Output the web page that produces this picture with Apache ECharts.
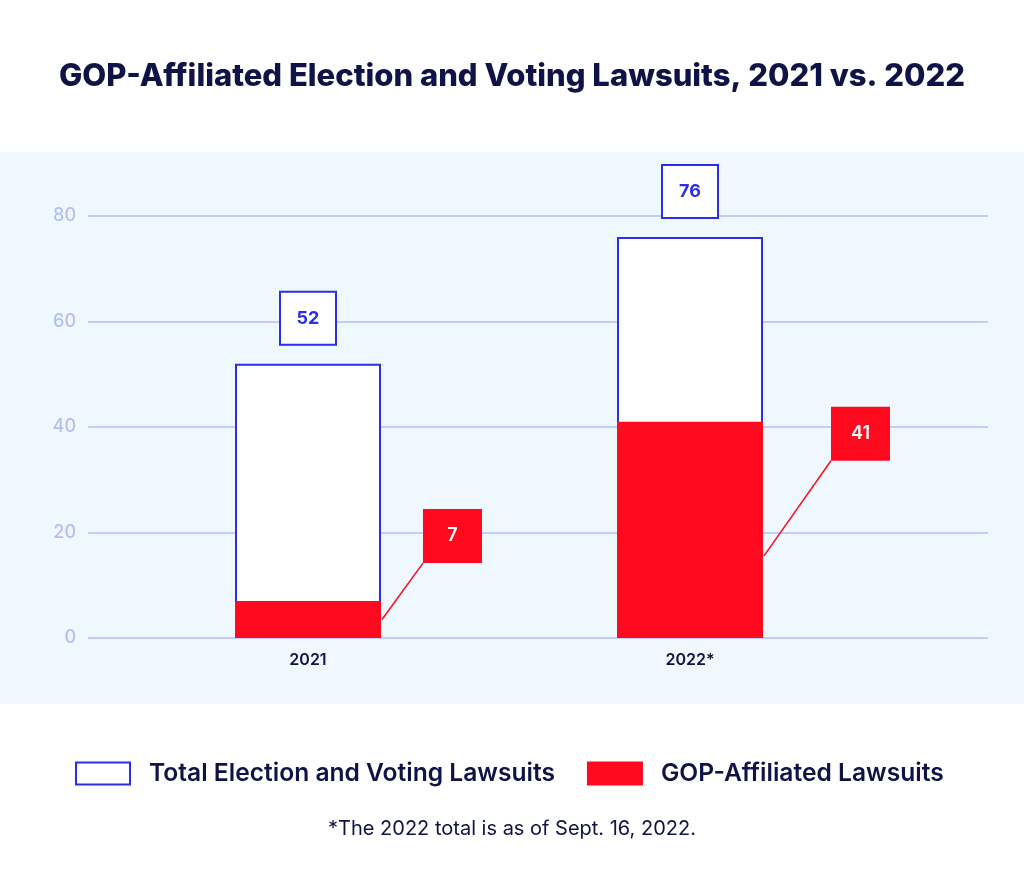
<!DOCTYPE html>
<html>
<head>
<meta charset="utf-8">
<script src="https://cdn.jsdelivr.net/npm/echarts@6/dist/echarts.min.js"></script>
<style>
html,body{margin:0;padding:0;background:#ffffff;}
#chart{width:1024px;height:876px;}
</style>
</head>
<body>
<div id="chart"></div>
<script>
const categories = ['2021', '2022*'];
const totalLawsuits = [52, 76];
const gopLawsuits = [7, 41];
const yTicks = [0, 20, 40, 60, 80];
const seriesNames = ['Total Election and Voting Lawsuits', 'GOP-Affiliated Lawsuits'];
const titleText = 'GOP-Affiliated Election and Voting Lawsuits, 2021 vs. 2022';
const footnoteText = '*The 2022 total is as of Sept. 16, 2022.';

const NAVY = '#0f1347';
const BLUE = '#2b2ef0';
const RED = '#ff0a1f';
const GRIDLINE = '#c2cdf8';
const TICKLABEL = '#b2c0f6';
const PANEL = '#eef8fe';
const FONT = 'Inter, "Noto Sans", sans-serif';
const BAR_W = 146;
const BOX_W = 59, BOX_H = 54;

// callout placement styling (pixel offsets from the bar's top-right corner)
const gopCallouts = [{dx: 41, dy: -92, anchor: 0.5}, {dx: 67, dy: -15, anchor: 0.38}];

const chart = echarts.init(document.getElementById('chart'), null, {renderer: 'canvas'});

const option = {
  animation: false,
  textStyle: {fontFamily: FONT},
  title: [
    {text: titleText, left: 'center', top: 56,
     textStyle: {fontFamily: FONT, fontSize: 31, fontWeight: 800, color: NAVY}},
    {text: footnoteText, left: 'center', top: 814,
     textStyle: {fontFamily: FONT, fontSize: 20, fontWeight: 400, color: NAVY}}
  ],
  graphic: [
    {type: 'rect', z: -10, silent: true,
     shape: {x: 0, y: 152, width: 1024, height: 552},
     style: {fill: PANEL}}
  ],
  legend: {
    left: 75, top: 761, padding: 0,
    itemWidth: 54, itemHeight: 22, itemGap: 32,
    icon: 'rect',
    textStyle: {fontFamily: FONT, fontSize: 24.6, fontWeight: 600, color: NAVY, padding: [0, 0, 0, 14]},
    data: seriesNames
  },
  grid: [
    {left: 88, right: 36, top: 216, bottom: 238},
    {left: 117, right: 143, top: 216, bottom: 238}
  ],
  xAxis: [
    {type: 'value', gridIndex: 0, show: false, min: 0, max: 1},
    {type: 'category', gridIndex: 1, data: categories,
     axisLine: {show: false}, axisTick: {show: false},
     axisLabel: {margin: 14, fontFamily: FONT, fontSize: 16, fontWeight: 600, color: NAVY}}
  ],
  yAxis: [
    {type: 'value', gridIndex: 0, min: yTicks[0], max: yTicks[yTicks.length - 1],
     interval: yTicks[1] - yTicks[0],
     axisLine: {show: false}, axisTick: {show: false},
     axisLabel: {margin: 12, fontFamily: FONT, fontSize: 18, fontWeight: 500, color: TICKLABEL},
     splitLine: {lineStyle: {color: GRIDLINE, width: 2}}},
    {type: 'value', gridIndex: 1, min: yTicks[0], max: yTicks[yTicks.length - 1],
     interval: yTicks[1] - yTicks[0], show: false, splitLine: {show: false}}
  ],
  series: [
    {
      name: seriesNames[0], type: 'bar', xAxisIndex: 1, yAxisIndex: 1,
      barWidth: BAR_W, barGap: '-100%',
      itemStyle: {color: '#ffffff', borderColor: BLUE, borderWidth: 2},
      label: {
        show: true, position: 'top', distance: 20,
        formatter: '{c}',
        fontFamily: FONT, fontSize: 18, fontWeight: 700, color: BLUE,
        backgroundColor: '#ffffff', borderColor: BLUE, borderWidth: 2,
        width: 54, height: 51, lineHeight: 51, align: 'center', padding: 0
      },
      data: totalLawsuits
    },
    {
      name: seriesNames[1], type: 'bar', xAxisIndex: 1, yAxisIndex: 1,
      barWidth: BAR_W,
      itemStyle: {color: RED, borderColor: RED, borderWidth: 2},
      data: gopLawsuits
    },
    {
      name: 'gopCallout', type: 'custom', xAxisIndex: 1, yAxisIndex: 1, z: 5,
      silent: true,
      data: gopLawsuits.map((v, i) => [i, v]),
      renderItem: function (params, api) {
        const i = api.value(0), v = api.value(1);
        const c = gopCallouts[params.dataIndex];
        const top = api.coord([i, v]);
        const base = api.coord([i, 0]);
        const barRight = top[0] + BAR_W / 2 + 1;
        const startY = base[1] + (top[1] - base[1]) * c.anchor;
        const bx = barRight + c.dx, by = top[1] + c.dy;
        return {
          type: 'group',
          children: [
            {type: 'line', shape: {x1: barRight, y1: startY, x2: bx, y2: by + BOX_H},
             style: {stroke: RED, lineWidth: 1.5}},
            {type: 'rect', shape: {x: bx, y: by, width: BOX_W, height: BOX_H},
             style: {fill: RED}},
            {type: 'text', style: {
              text: String(v), x: bx + BOX_W / 2, y: by + BOX_H / 2,
              align: 'center', verticalAlign: 'middle',
              textAlign: 'center', textVerticalAlign: 'middle',
              fill: '#ffffff', fontFamily: FONT, fontSize: 18, fontWeight: 600
            }}
          ]
        };
      }
    }
  ]
};
chart.setOption(option);
</script>
</body>
</html>
